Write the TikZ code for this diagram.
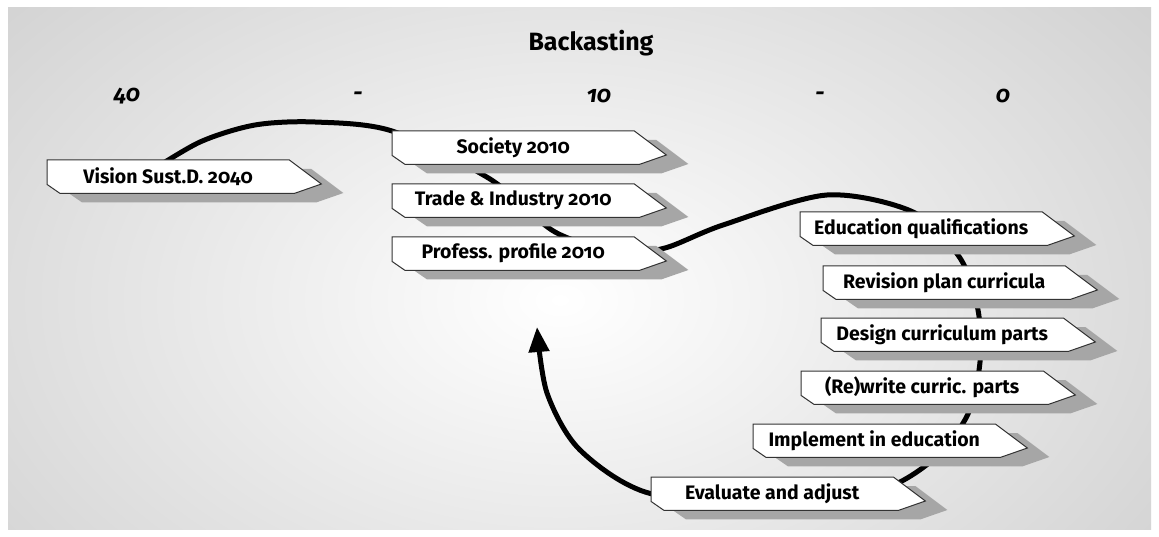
\documentclass[tikz,border=0pt]{standalone}
\usepackage{fontspec}
\setmainfont{Fira Sans}[Numbers=OldStyle]
\usepackage{tikz}
\usetikzlibrary{calc}
\usetikzlibrary{arrows.meta}
\pgfdeclarelayer{back}
\pgfdeclarelayer{wire}
\pgfdeclarelayer{boxes}
\pgfsetlayers{back,wire,boxes,main}
\definecolor{shad}{rgb}{0.65,0.65,0.65}
\definecolor{rim}{rgb}{0.2,0.2,0.2}
\tikzstyle{tag}=[anchor=north west,minimum width=242pt,minimum height=33pt,inner sep=0pt,font=\bfseries\fontsize{19.5}{22}\selectfont]
\tikzstyle{year}=[font=\bfseries\itshape\fontsize{23}{26}\selectfont]
\tikzstyle{tagbox}=[fill=white,draw=rim,line width=1pt]
\tikzstyle{tagshadow}=[fill=shad]
\tikzstyle{wire}=[line width=5pt]

\begin{document}
\begin{tikzpicture}[x=1pt,y=-1pt]
	\useasboundingbox (0,0) rectangle (1159,537);
	\begin{pgfonlayer}{back}
		\fill[white] (0,0) rectangle (1159,537);
		\fill[gray!40] (8,8) rectangle (1151,529);
		\begin{scope}
			\clip (8,8) rectangle (1151,529);
			\shade[inner color=white,outer color=gray!40] (560,300) ellipse [x radius=840,y radius=540];
		\end{scope}
	\end{pgfonlayer}
	\node[font=\bfseries\fontsize{25}{30}\selectfont] (title) at (591,43) {Backasting};
	\node[year] (t40) at (127,96) {40};
	\node[year] (d1) at (358,96) {-};
	\node[year] (t10) at (599,96) {10};
	\node[year] (d2) at (820,96) {-};
	\node[year] (t0) at (1003,96) {0};
	\node[tag] (vision) at (47,160) {Vision Sust.D. 2040};
	\node[tag] (society) at (392,131) {Society 2010};
	\node[tag] (trade) at (392,184) {Trade \& Industry 2010};
	\node[tag] (profile) at (392,237) {Profess. profile 2010};
	\node[tag] (edu) at (800,212) {Education qualifications};
	\node[tag] (revision) at (823,266) {Revision plan curricula};
	\node[tag] (design) at (821,318) {Design curriculum parts};
	\node[tag] (rewrite) at (801,371) {(Re)write curric. parts};
	\node[tag] (implement) at (753,424) {Implement in education};
	\node[tag] (evaluate) at (651,477) {Evaluate and adjust};
	\coordinate (back) at (537,327);
	\foreach \n in {vision,society,trade,profile,edu,revision,design,rewrite,implement,evaluate}
		\foreach \dx/\dy/\sty in {22/9/tagshadow,0/0/tagbox}{
			\begin{pgfonlayer}{boxes}
				\path[\sty] ($(\n.north west)+(\dx,\dy)$) -- ($(\n.north east)+(\dx,\dy)$)
					-- ($(\n.north east)+(\dx+32,\dy+24)$) -- ($(\n.south east)+(\dx+5,\dy)$)
					-- ($(\n.south west)+(\dx+13,\dy)$) -- ($(\n.south west)+(\dx,\dy-9)$) -- cycle;
			\end{pgfonlayer}}
	\begin{pgfonlayer}{wire}
		\draw[wire,-{Triangle[length=25pt,width=20pt]}] plot[smooth] coordinates {
			($(vision.north)+(-22,14)$) (200,142) (255,125) (315,122) (society.north west) (490,179) (555,232)
			(620,252) (665,248) (723,225) (827,195) (913,212) (960,258) (978,310)
			(980,362) (968,414) (935,458) (880,490) (780,500) (evaluate.west)
			(580,450) (547,393) (back)};
	\end{pgfonlayer}
\end{tikzpicture}
\end{document}
